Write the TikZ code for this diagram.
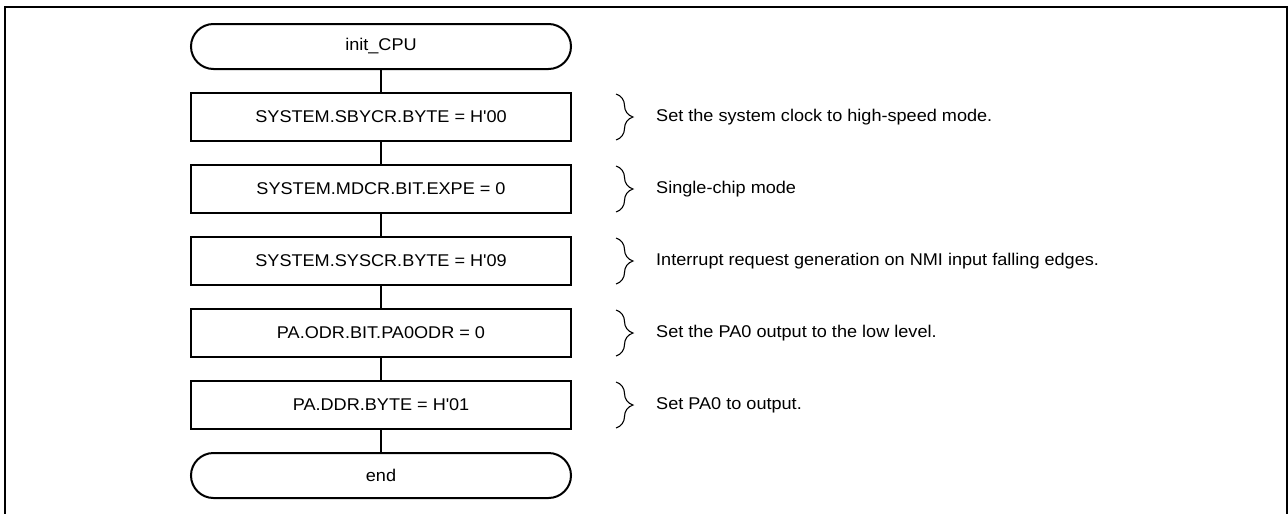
\documentclass[tikz,border=0pt]{standalone}
\usepackage{fontspec}
\setmainfont{Liberation Sans}[FakeStretch=1.065]
\usetikzlibrary{calc,positioning,shapes,decorations.pathreplacing}
\tikzset{
    x=1pt, y=1pt, node distance = 22pt and 84pt,
    term/.style ={rectangle, draw, rounded corners=22.5pt, line width=2pt,
        minimum width = 380pt, minimum height = 45pt, font=\fontsize{17}{20}\selectfont},
    stepbox/.style ={rectangle, draw, line width=2pt,
        minimum width = 380pt, minimum height = 48pt, font=\fontsize{17}{20}\selectfont},
    note/.style = {inner sep=0pt, font=\fontsize{17}{20}\selectfont},
    link/.style = {line width=1.1pt},
    curly/.style = {decorate, decoration={brace, amplitude=17pt}, line width=1.1pt}
}

\begin{document}
\begin{tikzpicture}

    \useasboundingbox (0,0) rectangle (1288,-514);
    \draw[line width=2.2pt] (5,-514) |- (1286.7,-7) -- (1286.7,-514);

    \node[term] (init) at (381,-46.5) {init\_CPU};

    % steps set below one another
    \node[stepbox] (sbycr) [below = of init] {SYSTEM.SBYCR.BYTE = H\textquotesingle 00};
    \node[stepbox] (mdcr) [below = of sbycr] {SYSTEM.MDCR.BIT.EXPE = 0};
    \node[stepbox] (syscr) [below = of mdcr] {SYSTEM.SYSCR.BYTE = H\textquotesingle 09};
    \node[stepbox] (odr) [below = of syscr] {PA.ODR.BIT.PA0ODR = 0};
    \node[stepbox] (ddr) [below = of odr] {PA.DDR.BYTE = H\textquotesingle 01};

    \node[term] (end) [below = of ddr] {end};

    % flow lines
    \path[link] (init) edge (sbycr);
    \path[link] (sbycr) edge (mdcr);
    \path[link] (mdcr) edge (syscr);
    \path[link] (syscr) edge (odr);
    \path[link] (odr) edge (ddr);
    \path[link] (ddr) edge (end);

    % comments on the right
    \node[note] (c1) [right = of sbycr] {Set the system clock to high-speed mode.};
    \node[note] (c2) [right = of mdcr] {Single-chip mode};
    \node[note] (c3) [right = of syscr] {Interrupt request generation on NMI input falling edges.};
    \node[note] (c4) [right = of odr] {Set the PA0 output to the low level.};
    \node[note] (c5) [right = of ddr] {Set PA0 to output.};

    % braces
    \draw[curly] ($(sbycr.north east)+(44,-2)$) -- ($(sbycr.south east)+(44,2)$);
    \draw[curly] ($(mdcr.north east)+(44,-2)$) -- ($(mdcr.south east)+(44,2)$);
    \draw[curly] ($(syscr.north east)+(44,-2)$) -- ($(syscr.south east)+(44,2)$);
    \draw[curly] ($(odr.north east)+(44,-2)$) -- ($(odr.south east)+(44,2)$);
    \draw[curly] ($(ddr.north east)+(44,-2)$) -- ($(ddr.south east)+(44,2)$);

\end{tikzpicture}
\end{document}
